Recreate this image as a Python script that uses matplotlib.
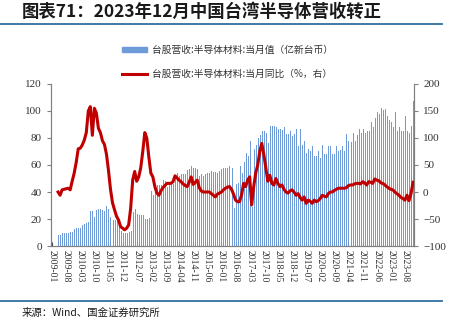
import numpy as np
import pandas as pd
import matplotlib
matplotlib.use('Agg')
import matplotlib.pyplot as plt
from matplotlib.patches import Patch

plt.rcParams['font.family'] = ['Noto Sans CJK SC', 'DejaVu Sans']

months = pd.period_range('2009-01', '2023-12', freq='M').strftime('%Y-%m').tolist()

# 当月值 (亿新台币), 2009-01 .. 2023-12, first three months missing
revenue = [np.nan, np.nan, np.nan,
    8, 8.5, 9.5, 9.5, 10, 10, 10.7, 10.5, 12.5, 13, 13, 13.5, 15.7, 16.5, 17, 18, 25.6, 26,
    21.4, 27, 27.5, 27.5, 27, 26, 30, 27.5, 21.4, 19.4, 19.4, 19, 16, 11, 9.5, 9.5, 10, 10.5,
    11, 25, 27.5, 23.5, 22.6, 23, 23, 20, 20, 20.5, 41, 38, 41, 45, 45.5, 45.5, 49, 48, 44,
    47, 47, 46, 52, 54, 52, 53, 53, 53, 56, 57, 59, 58, 58, 57, 52, 53, 52, 53, 54, 54, 55.5,
    55, 55, 54, 55.5, 57, 58, 58, 58, 59, 58, 28, 46, 47, 59, 54, 62, 69, 67, 78, 29, 72, 75,
    80, 82, 85, 85, 84, 76, 89, 89, 89, 88, 87, 86.6, 86, 88, 83, 83, 85, 81.6, 83, 86.6, 74,
    87, 75, 78, 69, 72, 70, 74, 67, 67, 70, 65, 75, 68, 68, 74, 74, 68, 68, 74, 70, 71, 74, 70,
    83, 78, 77, 84, 78, 82, 86.6, 84, 86.6, 84, 85, 85, 92, 88, 95, 99, 98, 102, 101, 101.5,
    96.5, 93, 91.6, 88, 99, 85, 88, 85, 85, 96.5, 85, 84, 89, 107.7]

# 当月同比 (%)
yoy = [np.nan, np.nan, np.nan,
    0, -6, 4, 5, 6, 7, 4, 20, 35, 55, 80, 81, 87, 96, 110, 150, 158, 105, 155, 146, 118, 110,
    95, 88, 70, 40, 5, -20, -33, -45, -52, -64, -67, -70, -67, -61, -30, 22, 38, 20, 28, 45,
    75, 110, 100, 65, 35, 28, 10, -2, -6, 2, 8, 12, 16, 16, 16, 19, 30, 26, 22, 19, 15, 12,
    10, 18, 28, 14, 18, 22, 8, 2, 0, 0, 0, 0, -3, -6, -9, -4, -2, 0, 4, 7, 9, 10, 5, -4, -15,
    -18, -18, -5, 16, 10, 22, 28, -24, 10, 35, 50, 75, 90, 70, 45, 20, 31, 16, 13, 25, 16, 10,
    13, 5, 0, -2, 2, 4, 0, -6, -3, -10, -15, -9, -21, -15, -17, -21, -15, -18, -16, -12, -6,
    -8, -9, -3, 0, 0, 3, 5, 7, 7, 7, 7, 8, 12, 13, 13, 15, 16, 16, 15, 19, 17, 13, 19, 18, 16,
    24, 22, 21, 17, 16, 13, 10, 7, 5, 4, 0, -3, -6, -10, -12, -15, -6, -16, -3, 18]

label_bar = '台股营收:半导体材料:当月值（亿新台币）'
label_line = '台股营收:半导体材料:当月同比（%，右）'
title = '图表71：2023年12月中国台湾半导体营收转正'
source = '来源：Wind、国金证券研究所'

x = np.arange(len(months))
bar_color = '#6f9ad8'

fig = plt.figure(figsize=(4.57, 3.30), dpi=100)
ax = fig.add_axes([0.1116, 0.2545, 0.7944, 0.491])
# thin bars, one pixel wide each so they don't merge into blocks
ax.vlines(x, 0, revenue, colors=bar_color, linewidth=0.72, antialiased=False)
ax.set_xlim(-0.5, len(months) - 0.5)
ax.set_ylim(0, 120)
ax.set_yticks(range(0, 121, 20))

ax2 = ax.twinx()
line, = ax2.plot(x, yoy, color='#c00000', lw=2.2, label=label_line)
ax2.set_ylim(-100, 200)
ax2.set_yticks(range(-100, 201, 50))

tick_pos = x[::7]
ax.set_xticks(tick_pos)
ax.set_xticklabels([months[i] for i in tick_pos], rotation=-90,
                   fontsize=7, family='Liberation Serif', color='#333333')
for a in (ax, ax2):
    a.spines['top'].set_visible(False)
    for s in a.spines.values():
        s.set_color('#808080')
        s.set_linewidth(0.8)
    a.tick_params(axis='y', labelsize=8, colors='#808080', labelcolor='#333333', length=3)
    for t in a.get_yticklabels():
        t.set_family('Liberation Serif')
ax.tick_params(axis='x', direction='in', length=3, color='#404040', pad=3)

fig.legend([Patch(color=bar_color), line], [label_bar, label_line], loc='upper left',
           bbox_to_anchor=(0.248, 0.89), frameon=False, fontsize=7,
           handlelength=2.6, handleheight=0.5, labelspacing=1.45, handletextpad=0.5,
           labelcolor='#333333')

fig.text(0.048, 0.963, title, fontsize=12.5, fontweight='bold', style='italic',
         va='center', ha='left', color='#1a1a1a')
fig.add_artist(plt.Line2D([0, 0.967], [0.927, 0.927], color='#2f6f9f', lw=1.3))
fig.add_artist(plt.Line2D([0, 0.967], [0.088, 0.088], color='#2f6f9f', lw=1.3))
fig.text(0.048, 0.052, source, fontsize=7.5, va='center', ha='left', color='#1a1a1a')

fig.savefig('out.png', dpi=100)
